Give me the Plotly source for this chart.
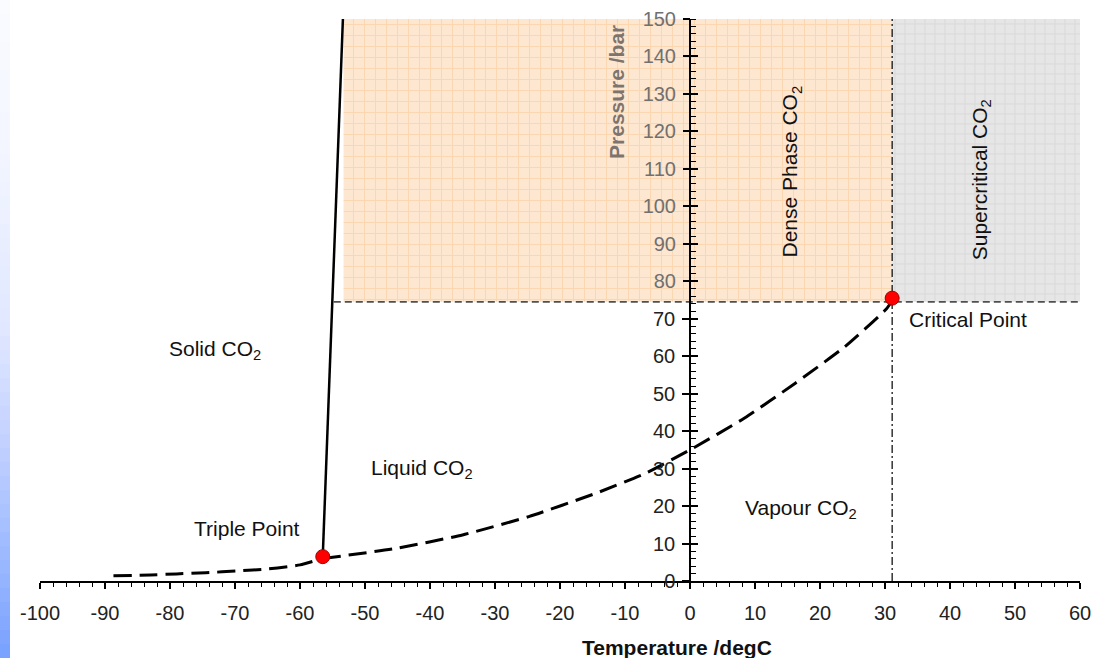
import plotly.graph_objects as go

# ---------------- data ----------------
x_ticks = list(range(-100, 61, 10))
x_tick_text = [str(v) for v in x_ticks]          # plain hyphen minus, as in the reference
y_ticks_low = list(range(0, 71, 10))
y_ticks_high = list(range(80, 151, 10))
y_ticks_all = list(range(0, 151, 10))

# sublimation curve (below triple point)
sub_T = [-88.7, -83.0, -79.0, -74.5, -69.5, -65.0, -60.0, -56.5]
sub_P = [1.4, 1.6, 1.9, 2.2, 2.7, 3.2, 4.3, 6.0]

# vapour pressure curve (liquid/vapour boundary)
vap_T = [-56.5, -45.2, -35.0, -24.8, -14.5, -6.9, 0.0, 8.4, 16.2, 23.8, 30.2, 31.1]
vap_P = [6.0, 8.7, 12.3, 17.2, 23.4, 28.7, 35.0, 43.5, 52.8, 62.5, 72.6, 74.8]

# melting line (solid/liquid boundary)
melt_T = [-56.5, -53.4]
melt_P = [6.5, 150]

triple_T, triple_P = -56.5, 6.5
crit_T, crit_P = 31.1, 75.5

dense_P = 74.5          # lower bound of the dense / supercritical regions
dense_T_left = -53.3    # left edge of the dense-phase region
dashed_T_left = -54.8
T_min, T_max = -100, 60
P_min, P_max = 0, 150

FONT = "Liberation Sans, Arial, sans-serif"

fig = go.Figure()

# Dense phase region (orange graph paper)
fig.add_trace(go.Scatter(
    x=[dense_T_left, crit_T, crit_T, dense_T_left, dense_T_left],
    y=[dense_P, dense_P, P_max, P_max, dense_P],
    mode="lines", line=dict(width=0), fill="toself",
    fillcolor="#fde6cf",
    fillpattern=dict(shape="+", size=11, solidity=0.17, fgcolor="#f8c48e", bgcolor="#fde7d1"),
    hoverinfo="skip", showlegend=False))

# Supercritical region (grey graph paper)
fig.add_trace(go.Scatter(
    x=[crit_T, T_max, T_max, crit_T, crit_T],
    y=[dense_P, dense_P, P_max, P_max, dense_P],
    mode="lines", line=dict(width=0), fill="toself",
    fillcolor="#e5e5e5",
    fillpattern=dict(shape="+", size=10, solidity=0.17, fgcolor="#c8c8c8", bgcolor="#e6e6e6"),
    hoverinfo="skip", showlegend=False))

# horizontal dashed boundary
fig.add_trace(go.Scatter(
    x=[dashed_T_left, T_max], y=[dense_P, dense_P], mode="lines",
    line=dict(color="#505050", width=1.6, dash="7px,4px"),
    hoverinfo="skip", showlegend=False, cliponaxis=False))

# vertical dash-dot line at critical temperature
fig.add_trace(go.Scatter(
    x=[crit_T, crit_T], y=[P_min, P_max], mode="lines",
    line=dict(color="black", width=1.2, dash="8px,3px,2px,3px"),
    hoverinfo="skip", showlegend=False))

# melting line
fig.add_trace(go.Scatter(
    x=melt_T, y=melt_P, mode="lines",
    line=dict(color="black", width=2.5),
    hoverinfo="skip", showlegend=False))

# sublimation + vapour pressure curves
for tx, py in ((sub_T, sub_P), (vap_T, vap_P)):
    fig.add_trace(go.Scatter(
        x=tx, y=py, mode="lines",
        line=dict(color="black", width=3, dash="18px,8px", shape="spline", smoothing=0.5),
        hoverinfo="skip", showlegend=False))

# triple point & critical point
fig.add_trace(go.Scatter(
    x=[triple_T, crit_T], y=[triple_P, crit_P], mode="markers",
    marker=dict(color="#ff0000", size=14, line=dict(color="#a00000", width=1)),
    hoverinfo="skip", showlegend=False, cliponaxis=False))

# placeholder traces so the overlay axes are drawn
fig.add_trace(go.Scatter(x=[None], y=[None], yaxis="y2", showlegend=False, hoverinfo="skip"))
fig.add_trace(go.Scatter(x=[None], y=[None], yaxis="y3", showlegend=False, hoverinfo="skip"))

# ---------------- axes ----------------
x_pos0 = (0 - T_min) / (T_max - T_min)

fig.update_layout(
    width=1095, height=658,
    margin=dict(l=40, r=15, t=19, b=77, autoexpand=False),
    paper_bgcolor="white", plot_bgcolor="white",
    font=dict(family=FONT, size=20, color="#222"),
    xaxis=dict(
        range=[T_min, T_max], tickmode="array", tickvals=x_ticks, ticktext=x_tick_text,
        automargin=False,
        showgrid=False, zeroline=False,
        showline=True, linecolor="black", linewidth=1.5,
        ticks="outside", ticklen=6, tickwidth=1.5, tickcolor="black",
        ticklabelstandoff=7,
        tickfont=dict(size=20, color="#222"),
        minor=dict(dtick=2, tick0=0, ticks="outside", ticklen=4, tickwidth=1.2, tickcolor="black"),
    ),
    yaxis=dict(
        range=[P_min, P_max], anchor="free", position=x_pos0, automargin=False,
        tickmode="array", tickvals=y_ticks_low,
        showgrid=False, zeroline=False,
        showline=True, linecolor="black", linewidth=1.5,
        ticks="outside", ticklen=7, tickwidth=1.5, tickcolor="black",
        ticklabelstandoff=3,
        tickfont=dict(size=20, color="#222"),
        minor=dict(tickmode="array", tickvals=list(range(0, 151, 2)),
                   ticks="inside", ticklen=5, tickwidth=1.2, tickcolor="black"),
    ),
    yaxis2=dict(
        range=[P_min, P_max], anchor="free", position=x_pos0, overlaying="y", automargin=False,
        tickmode="array", tickvals=y_ticks_high,
        showgrid=False, zeroline=False, showline=False,
        ticks="outside", ticklen=7, tickwidth=1.5, tickcolor="black",
        ticklabelstandoff=3,
        tickfont=dict(size=20, color="#707070"),
    ),
    yaxis3=dict(
        range=[P_min, P_max], anchor="free", position=x_pos0, overlaying="y", automargin=False,
        tickmode="array", tickvals=y_ticks_all,
        showgrid=False, zeroline=False, showline=False,
        ticks="inside", ticklen=7, tickwidth=1.5, tickcolor="black",
        showticklabels=False,
    ),
)

# ---------------- text ----------------
ann_font = dict(family=FONT, size=21, color="#111")
labels = [
    ("Solid CO<sub>2</sub>", -73.1, 61.6, 0, "center"),
    ("Liquid CO<sub>2</sub>", -41.2, 30.0, 0, "center"),
    ("Triple Point", -68.2, 13.9, 0, "center"),
    ("Vapour CO<sub>2</sub>", 17.1, 19.3, 0, "center"),
    ("Critical Point", 33.4, 69.9, 0, "left"),
    ("Dense Phase CO<sub>2</sub>", 15.6, 109.4, -90, "center"),
    ("Supercritical CO<sub>2</sub>", 44.8, 107.0, -90, "center"),
]
for txt, x, y, ang, xa in labels:
    fig.add_annotation(x=x, y=y, xref="x", yref="y", text=txt, showarrow=False,
                       textangle=ang, xanchor=xa, yanchor="middle", font=ann_font)

fig.add_annotation(x=-11.4, y=130.5, xref="x", yref="y", text="<b>Pressure /bar</b>",
                   showarrow=False, textangle=-90, font=dict(family=FONT, size=21, color="#7d746e"))
fig.add_annotation(x=(677 - 40) / 1040, y=-0.119, xref="paper", yref="paper",
                   text="<b>Temperature /degC</b>", showarrow=False,
                   xanchor="center", yanchor="middle", font=dict(family=FONT, size=21, color="#111"))

# ---------------- left blue gradient strip ----------------
stops = [(0, (250, 251, 255)), (150, (243, 246, 255)), (330, (224, 231, 255)),
         (450, (192, 207, 255)), (560, (155, 185, 255)), (658, (120, 160, 255))]

def col_at(py):
    for (y0, c0), (y1, c1) in zip(stops[:-1], stops[1:]):
        if y0 <= py <= y1:
            t = (py - y0) / (y1 - y0)
            return "rgb(%d,%d,%d)" % tuple(round(a + (b - a) * t) for a, b in zip(c0, c1))
    return "rgb(%d,%d,%d)" % stops[-1][1]

band = 14
for py in range(0, 658, band):
    fig.add_shape(type="rect", xref="paper", yref="paper", layer="above",
                  x0=(0 - 40) / 1040, x1=(10 - 40) / 1040,
                  y0=(581 - py) / 562, y1=(581 - (py + band + 1)) / 562,
                  line=dict(width=0), fillcolor=col_at(py + band / 2))

fig.write_html("out.html", config={"displayModeBar": False},
               post_script="document.body.style.margin='0';document.body.style.overflow='hidden';")
